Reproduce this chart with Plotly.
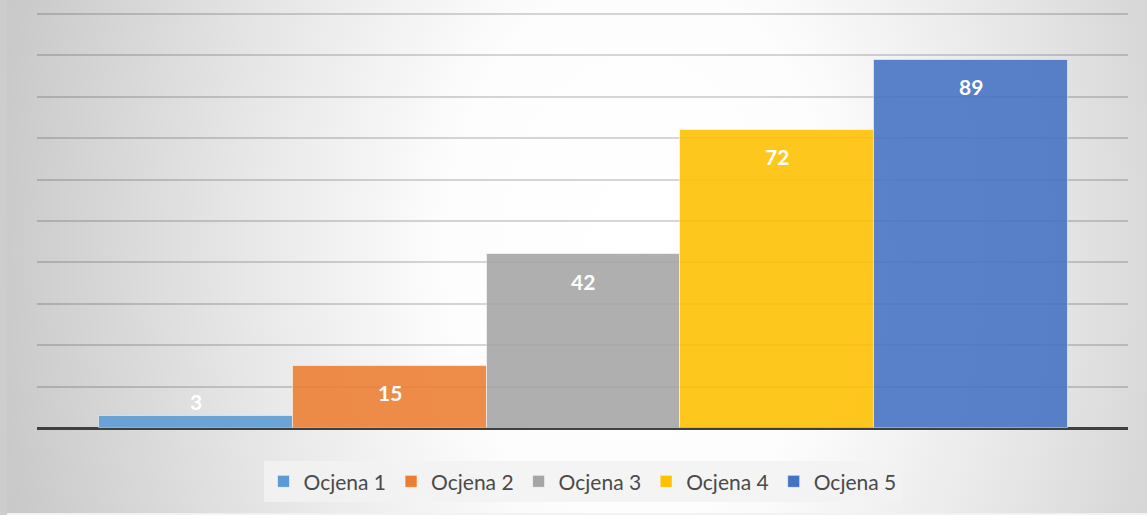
import base64
import plotly.graph_objects as go

# ---- data ----
series_names = ["Ocjena 1", "Ocjena 2", "Ocjena 3", "Ocjena 4", "Ocjena 5"]
values = [3, 15, 42, 72, 89]
colors = ["#5B9BD5", "#ED7D31", "#A5A5A5", "#FFC000", "#4472C4"]
y_ticks = [0, 10, 20, 30, 40, 50, 60, 70, 80, 90, 100]

W, H = 1147, 515
FONT = "Lato, 'Open Sans', sans-serif"

# radial gradient background as SVG
svg = f"""<svg xmlns='http://www.w3.org/2000/svg' width='{W}' height='{H}' viewBox='0 0 {W} {H}' preserveAspectRatio='none'>
<defs><radialGradient id='g' gradientUnits='userSpaceOnUse' cx='640' cy='250' r='650'
 gradientTransform='translate(640,250) scale(1,1.4) translate(-640,-250)'>
<stop offset='0' stop-color='#ffffff'/><stop offset='0.3' stop-color='#fdfdfd'/>
<stop offset='0.6' stop-color='#e8e8e8'/>
<stop offset='1' stop-color='#c9c9c9'/></radialGradient></defs>
<rect width='{W}' height='{H}' fill='url(#g)'/>
<rect x='0' y='0' width='7' height='{H}' fill='#cdcdcd'/>
<rect x='7' y='{H-2}' width='{W}' height='2' fill='#f2f2f2'/>
</svg>"""
src = "data:image/svg+xml;base64," + base64.b64encode(svg.encode()).decode()

fig = go.Figure()
for name, v, c in zip(series_names, values, colors):
    fig.add_trace(go.Bar(
        x=[name], y=[v], name=name, width=1,
        marker=dict(color=c, opacity=0.88,
                    line=dict(color="rgba(255,255,255,0.55)", width=1)),
        hoverinfo="skip",
    ))

annotations = []
for name, v in zip(series_names, values):
    annotations.append(dict(
        x=name, y=v, xref="x", yref="y", text=f"<b>{v}</b>", showarrow=False,
        yanchor="middle", yshift=(-27 if v > 10 else 14),
        font=dict(family=FONT, size=21, color="white"),
    ))

PLOT_H = 415
fig.update_layout(
    width=W, height=H,
    margin=dict(l=37, r=19, t=13, b=87),
    paper_bgcolor="rgba(0,0,0,0)", plot_bgcolor="rgba(0,0,0,0)",
    barmode="overlay", bargap=0,
    showlegend=True,
    legend=dict(orientation="h", x=0.5, xanchor="center", y=-0.08, yanchor="top",
                bgcolor="rgba(242,242,242,0.85)", borderwidth=0,
                font=dict(family=FONT, size=21, color="#4a4a4a"),
                itemclick=False, itemdoubleclick=False, tracegroupgap=0),
    xaxis=dict(range=[-0.82, 4.81], showticklabels=False, showgrid=False,
               zeroline=False, showline=False, fixedrange=True,
               categoryorder="array", categoryarray=series_names),
    yaxis=dict(range=[0, 100.25], tickvals=y_ticks, showticklabels=False,
               showgrid=True, gridcolor="rgba(0,0,0,0.16)", gridwidth=1.5,
               zeroline=True, zerolinecolor="#404040", zerolinewidth=3,
               showline=False, fixedrange=True),
    annotations=annotations,
    images=[dict(source=src, xref="paper", yref="paper", x=-37/1091, y=1+13/PLOT_H,
                 sizex=W/1091, sizey=H/PLOT_H, sizing="stretch",
                 xanchor="left", yanchor="top", layer="below")],
)

fig.write_html("out.html", include_plotlyjs=True, config={"displayModeBar": False},
               post_script="document.body.style.margin='0';")
